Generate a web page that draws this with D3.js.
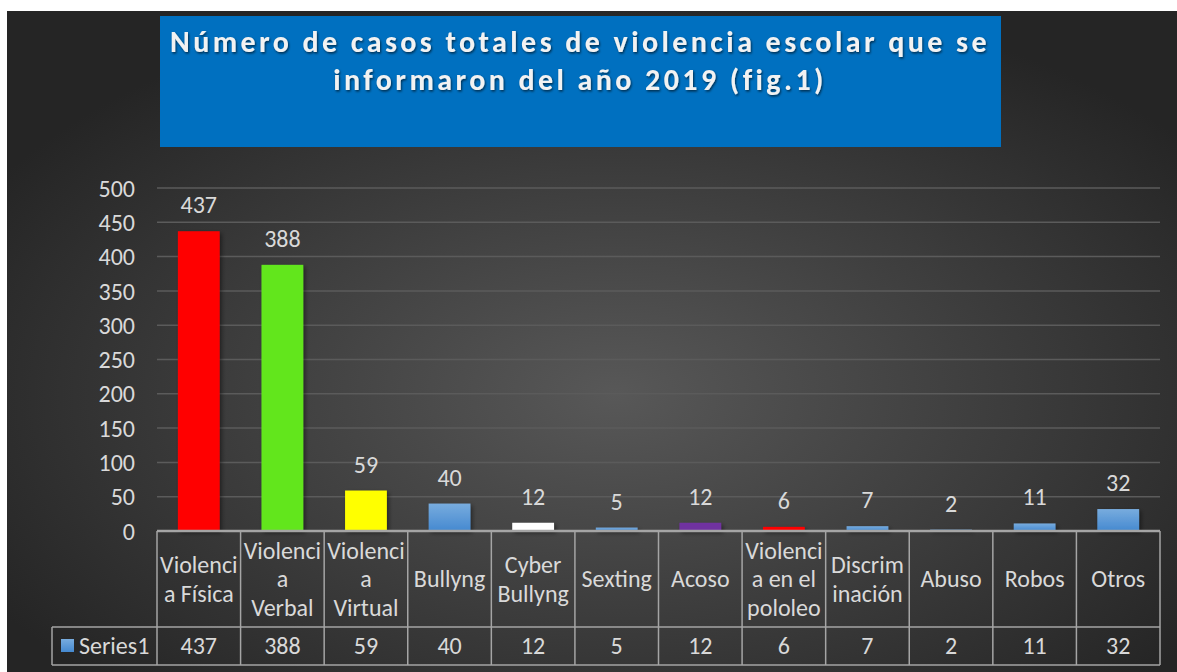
<!DOCTYPE html>
<html>
<head>
<meta charset="utf-8">
<script src="https://cdn.jsdelivr.net/npm/d3@7"></script>
<style>
  body { margin: 0; background: #fff; }
  text { font-family: Carlito, Calibri, "Open Sans", sans-serif; }
</style>
</head>
<body>
<div id="chart"></div>
<script>
// data
var categories = [
  ['Violenci', 'a Física'],
  ['Violenci', 'a', 'Verbal'],
  ['Violenci', 'a', 'Virtual'],
  ['Bullyng'],
  ['Cyber', 'Bullyng'],
  ['Sexting'],
  ['Acoso'],
  ['Violenci', 'a en el', 'pololeo'],
  ['Discrim', 'inación'],
  ['Abuso'],
  ['Robos'],
  ['Otros']
];
var values = [437, 388, 59, 40, 12, 5, 12, 6, 7, 2, 11, 32];
var barColors = ['#ff0000', '#62e61f', '#ffff00', 'blue', '#ffffff', 'blue', '#7030a0', '#ff0000', 'blue', 'blue', 'blue', 'blue'];
var yTicks = [0, 50, 100, 150, 200, 250, 300, 350, 400, 450, 500];
var seriesName = 'Series1';
var titleLines = ['Número de casos totales de violencia escolar que se', 'informaron del año 2019 (fig.1)'];

var width = 1177;
var height = 672;
var textColor = '#d9d9d9';
var gridColor = '#5b5b5b';
var tableColor = '#a5a5a5';
var fontSize = '24px';
var lineH = 28.5;

var plotLeft = 157, plotRight = 1160, plotTop = 188, plotBottom = 531;
var rowBottom = 627, tableBottom = 665, legendLeft = 52;

var svg = d3.select('#chart').append('svg')
  .attr('width', width)
  .attr('height', height);

var defs = svg.append('defs');
var bg = defs.append('radialGradient')
  .attr('id', 'bg')
  .attr('cx', '52%').attr('cy', '58%').attr('r', '62%');
bg.append('stop').attr('offset', '0%').attr('stop-color', '#585858');
bg.append('stop').attr('offset', '100%').attr('stop-color', '#252525');

var blue = defs.append('linearGradient')
  .attr('id', 'blueBar')
  .attr('x1', 0).attr('y1', 0).attr('x2', 0).attr('y2', 1);
blue.append('stop').attr('offset', '0%').attr('stop-color', '#78acde');
blue.append('stop').attr('offset', '100%').attr('stop-color', '#4589d0');

var shadow = defs.append('filter').attr('id', 'shadow')
  .attr('x', '-20%').attr('y', '-20%').attr('width', '150%').attr('height', '150%');
shadow.append('feDropShadow')
  .attr('dx', 2).attr('dy', 2).attr('stdDeviation', 2)
  .attr('flood-color', '#000').attr('flood-opacity', 0.45);

var titleShadow = defs.append('filter').attr('id', 'tshadow');
titleShadow.append('feDropShadow')
  .attr('dx', 1).attr('dy', 1.5).attr('stdDeviation', 1)
  .attr('flood-color', '#000').attr('flood-opacity', 0.6);

// fondo
svg.append('rect')
  .attr('x', 7).attr('y', 11)
  .attr('width', width - 7).attr('height', height - 11)
  .attr('fill', 'url(#bg)');

// titulo
svg.append('rect')
  .attr('x', 160).attr('y', 16)
  .attr('width', 841).attr('height', 131)
  .attr('fill', '#0070c0');

var titles = svg.append('g')
  .attr('filter', 'url(#tshadow)')
  .selectAll('text')
  .data(titleLines)
  .enter()
  .append('text')
  .attr('x', 580)
  .attr('y', function (d, i) { return 52 + i * 38; })
  .attr('text-anchor', 'middle')
  .style('font-size', '30px')
  .style('font-weight', 'bold')
  .attr('fill', '#f2f2f2')
  .text(function (d) { return d; });

// espaciado de letras para que la primera linea mida ~820px
var w0 = titles.node().getComputedTextLength();
var spacing = (820 - w0) / titleLines[0].length;
titles.style('letter-spacing', spacing + 'px');

// escalas
var x = d3.scaleBand()
  .domain(d3.range(values.length))
  .range([plotLeft, plotRight])
  .paddingInner(0.5)
  .paddingOuter(0.25);

var col = d3.scaleBand()
  .domain(d3.range(values.length))
  .range([plotLeft, plotRight]);

var y = d3.scaleLinear()
  .domain([0, 500])
  .range([plotBottom, plotTop]);

// grid
svg.append('g')
  .selectAll('line')
  .data(yTicks.slice(1))
  .enter()
  .append('line')
  .attr('x1', plotLeft).attr('x2', plotRight)
  .attr('y1', function (d) { return y(d); })
  .attr('y2', function (d) { return y(d); })
  .attr('stroke', gridColor)
  .attr('stroke-width', 1.5);

// eje y
var yAxis = svg.append('g')
  .attr('transform', 'translate(135,0)')
  .call(d3.axisLeft(y).tickValues(yTicks).tickSize(0).tickPadding(0));
yAxis.select('.domain').remove();
yAxis.attr('font-family', null).attr('font-size', null);
yAxis.selectAll('text')
  .attr('fill', textColor)
  .style('font-size', fontSize)
  .attr('dy', '0.34em');

// barras
svg.append('g')
  .attr('filter', 'url(#shadow)')
  .selectAll('rect')
  .data(values)
  .enter()
  .append('rect')
  .attr('x', function (d, i) { return x(i); })
  .attr('width', x.bandwidth())
  .attr('y', function (d) { return y(d); })
  .attr('height', function (d) { return plotBottom - y(d); })
  .attr('fill', function (d, i) {
    return barColors[i] === 'blue' ? 'url(#blueBar)' : barColors[i];
  });

// etiquetas
svg.append('g')
  .selectAll('text')
  .data(values)
  .enter()
  .append('text')
  .attr('x', function (d, i) { return x(i) + x.bandwidth() / 2; })
  .attr('y', function (d) { return y(d) - 18; })
  .attr('text-anchor', 'middle')
  .attr('fill', textColor)
  .style('font-size', fontSize)
  .text(function (d) { return d; });

// tabla
var table = svg.append('g')
  .attr('fill', 'none')
  .attr('stroke', tableColor)
  .attr('stroke-width', 1.5);

table.append('line')
  .attr('x1', plotLeft).attr('x2', plotRight)
  .attr('y1', plotBottom).attr('y2', plotBottom)
  .attr('stroke-width', 2.5);
table.append('line')
  .attr('x1', legendLeft).attr('x2', plotRight)
  .attr('y1', rowBottom).attr('y2', rowBottom);
table.append('line')
  .attr('x1', legendLeft).attr('x2', plotRight)
  .attr('y1', tableBottom).attr('y2', tableBottom);
table.append('line')
  .attr('x1', legendLeft).attr('x2', legendLeft)
  .attr('y1', rowBottom).attr('y2', tableBottom);
table.selectAll('line.col')
  .data(d3.range(values.length + 1))
  .enter()
  .append('line')
  .attr('class', 'col')
  .attr('x1', function (i) { return plotLeft + i * col.bandwidth(); })
  .attr('x2', function (i) { return plotLeft + i * col.bandwidth(); })
  .attr('y1', plotBottom).attr('y2', tableBottom);

var cat = svg.append('g')
  .selectAll('text')
  .data(categories)
  .enter()
  .append('text')
  .attr('text-anchor', 'middle')
  .attr('fill', textColor)
  .style('font-size', fontSize)
  .attr('transform', function (d, i) {
    var cy = (plotBottom + rowBottom) / 2 - (d.length - 1) * lineH / 2;
    return 'translate(' + (col(i) + col.bandwidth() / 2) + ',' + cy + ')';
  });
cat.selectAll('tspan')
  .data(function (d) { return d; })
  .enter()
  .append('tspan')
  .attr('x', 0)
  .attr('y', function (d, i) { return i * lineH; })
  .attr('dy', '0.35em')
  .text(function (d) { return d; });

svg.append('g')
  .selectAll('text')
  .data(values)
  .enter()
  .append('text')
  .attr('x', function (d, i) { return col(i) + col.bandwidth() / 2; })
  .attr('y', (rowBottom + tableBottom) / 2)
  .attr('dy', '0.35em')
  .attr('text-anchor', 'middle')
  .attr('fill', textColor)
  .style('font-size', fontSize)
  .text(function (d) { return d; });

// leyenda
svg.append('rect')
  .attr('x', 61).attr('y', 639)
  .attr('width', 13).attr('height', 13)
  .attr('fill', 'url(#blueBar)');
svg.append('text')
  .attr('x', 79)
  .attr('y', (rowBottom + tableBottom) / 2)
  .attr('dy', '0.35em')
  .attr('fill', textColor)
  .style('font-size', fontSize)
  .text(seriesName);
</script>
</body>
</html>
